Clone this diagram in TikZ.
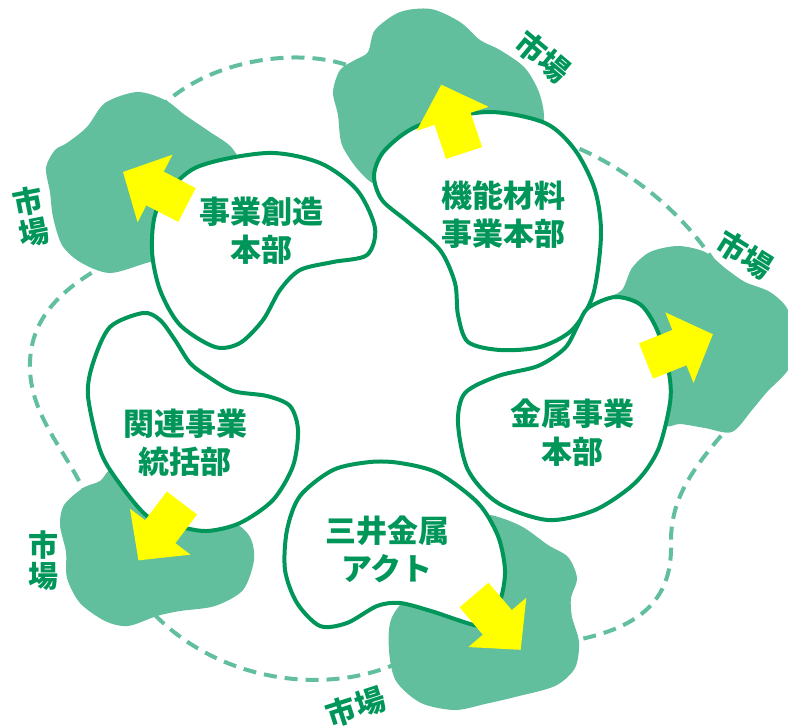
\documentclass[tikz,border=0pt]{standalone}
\usepackage{fontspec}
\newfontfamily\jp{Noto Sans CJK JP}
\definecolor{mktgreen}{RGB}{97,191,158}
\definecolor{deepgreen}{RGB}{0,150,90}
\definecolor{arrowyellow}{RGB}{255,255,0}
\tikzset{
  ring/.style={mktgreen, line width=4pt, dash pattern=on 13pt off 8pt},
  market/.style={fill=mktgreen},
  unit/.style={draw=deepgreen, fill=white, line width=4pt},
  unitname/.style={text=deepgreen, font=\jp\bfseries\fontsize{31}{38}\selectfont, align=center, inner sep=0pt},
  mktname/.style={text=deepgreen, font=\jp\bfseries\fontsize{30}{31}\selectfont, align=center, inner sep=0pt},
  yarrow/.pic={\fill[arrowyellow] (0,-19) -- (36,-19) -- (36,-38) -- (72,0) -- (36,38) -- (36,19) -- (0,19) -- cycle;}
}
\begin{document}
\begin{tikzpicture}[x=1pt, y=-1pt]
    \useasboundingbox (0,0) rectangle (788,726);

    % dashed ring between the markets
    \coordinate (rA1) at (158,110);
    \coordinate (rB0) at (355,68);
    \coordinate (rB1) at (540,135);
    \coordinate (rC0) at (722,275);
    \coordinate (rC1) at (735,420);
    \coordinate (rE0) at (565,642);
    \coordinate (rE1) at (400,662);
    \coordinate (rD0) at (150,610);
    \coordinate (rD1) at (88,500);
    \coordinate (rA0) at (105,265);
    \draw[ring] (rA1) .. controls (205,60) and (300,45) .. (rB0);
    \draw[ring] (rB1) .. controls (600,150) and (680,200) .. (rC0);
    \draw[ring] (rC1) .. controls (690,470) and (670,500) .. (671,545)
                      .. controls (672,600) and (640,630) .. (rE0);
    \draw[ring] (rE1) .. controls (330,695) and (220,685) .. (rD0);
    \draw[ring] (rD1) .. controls (70,455) and (32,420) .. (30,370)
                      .. controls (28,320) and (60,290) .. (rA0);

    % markets
    \fill[market] plot[smooth cycle] coordinates {(137,92) (165,100) (185,115) (210,132) (232,148) (245,175) (240,215) (200,250) (150,262) (110,273) (80,262) (62,245) (53,217) (50,192) (46,168) (55,150) (67,143) (87,127) (105,103)};
    \fill[market] plot[smooth cycle] coordinates {(400,12) (431,9) (460,22) (480,40) (500,50) (525,68) (540,95) (543,125) (520,150) (470,150) (420,170) (380,185) (360,172) (342,145) (338,115) (333,92) (340,70) (355,60) (368,52) (375,30)};
    \fill[market] plot[smooth cycle] coordinates {(592,320) (605,300) (622,290) (632,268) (650,252) (678,246) (705,252) (725,268) (745,282) (770,292) (788,310) (795,345) (788,370) (767,392) (752,410) (732,432) (705,428) (680,424) (665,426) (640,410) (610,380) (595,350)};
    \fill[market] plot[smooth cycle] coordinates {(470,520) (490,515) (521,526) (548,545) (568,557) (577,578) (571,598) (572,617) (579,642) (575,668) (555,686) (515,697) (485,704) (455,710) (421,703) (396,681) (389,650) (392,617) (420,580) (445,540)};
    \fill[market] plot[smooth cycle] coordinates {(83,488) (100,481) (115,468) (150,490) (200,515) (233,522) (250,537) (254,560) (243,590) (215,606) (180,611) (157,616) (128,626) (105,621) (80,603) (67,578) (66,552) (60,525) (64,505)};

    % business units
    \draw[unit] plot[smooth cycle] coordinates {(267,153) (320,163) (357,190) (375,228) (367,255) (333,262) (300,270) (280,290) (263,320) (240,343) (215,347) (180,325) (160,290) (152,250) (158,207) (195,168)};
    \draw[unit] plot[smooth cycle] coordinates {(488,112) (545,123) (575,150) (595,190) (601,235) (593,295) (572,330) (540,347) (500,350) (468,342) (458,315) (455,283) (440,250) (408,222) (382,200) (374,175) (385,150) (420,125)};
    \draw[unit] plot[smooth cycle] coordinates {(588,308) (615,297) (641,305) (658,332) (669,373) (670,403) (658,450) (635,483) (595,510) (548,520) (498,503) (468,470) (458,423) (465,393) (498,376) (538,366) (565,348) (578,325)};
    \draw[unit] plot[smooth cycle] coordinates {(370,462) (400,463) (438,473) (478,503) (498,536) (505,570) (501,598) (490,620) (478,626) (431,611) (400,603) (377,606) (347,623) (320,626) (297,603) (285,570) (287,530) (300,496) (333,470)};
    \draw[unit] plot[smooth cycle] coordinates {(143,313) (160,320) (175,340) (190,363) (207,376) (233,391) (267,396) (290,406) (298,430) (293,466) (273,500) (240,523) (207,531) (177,526) (147,516) (117,480) (100,450) (88,396) (93,363) (110,327)};

    % arrows out to the markets
    \pic[rotate=152.7] at (187,205) {yarrow};
    \pic[rotate=108.4] at (464,153) {yarrow};
    \pic[rotate=21.8] at (646,361) {yarrow};
    \pic[rotate=-49.6] at (474,595) {yarrow};
    \pic[rotate=232.8] at (182,503) {yarrow};

    % names
    \node[unitname] (sozo) at (261,231) {事業創造\\本部};
    \node[unitname] (kinou) at (503,215) {機能材料\\事業本部};
    \node[unitname] (kinzoku) at (572,433) {金属事業\\本部};
    \node[unitname] (act) at (387,549) {三井金属\\アクト};
    \node[unitname] (kanren) at (185,443) {関連事業\\統括部};

    \node[mktname, rotate=11] (mA) at (31,217) {市\\場};
    \node[mktname, rotate=-40] (mB) at (543,57) {市場};
    \node[mktname, rotate=-32] (mC) at (745,255) {市場};
    \node[mktname, rotate=18] (mE) at (356,707) {市場};
    \node[mktname] (mD) at (43,561) {市\\場};
\end{tikzpicture}
\end{document}
